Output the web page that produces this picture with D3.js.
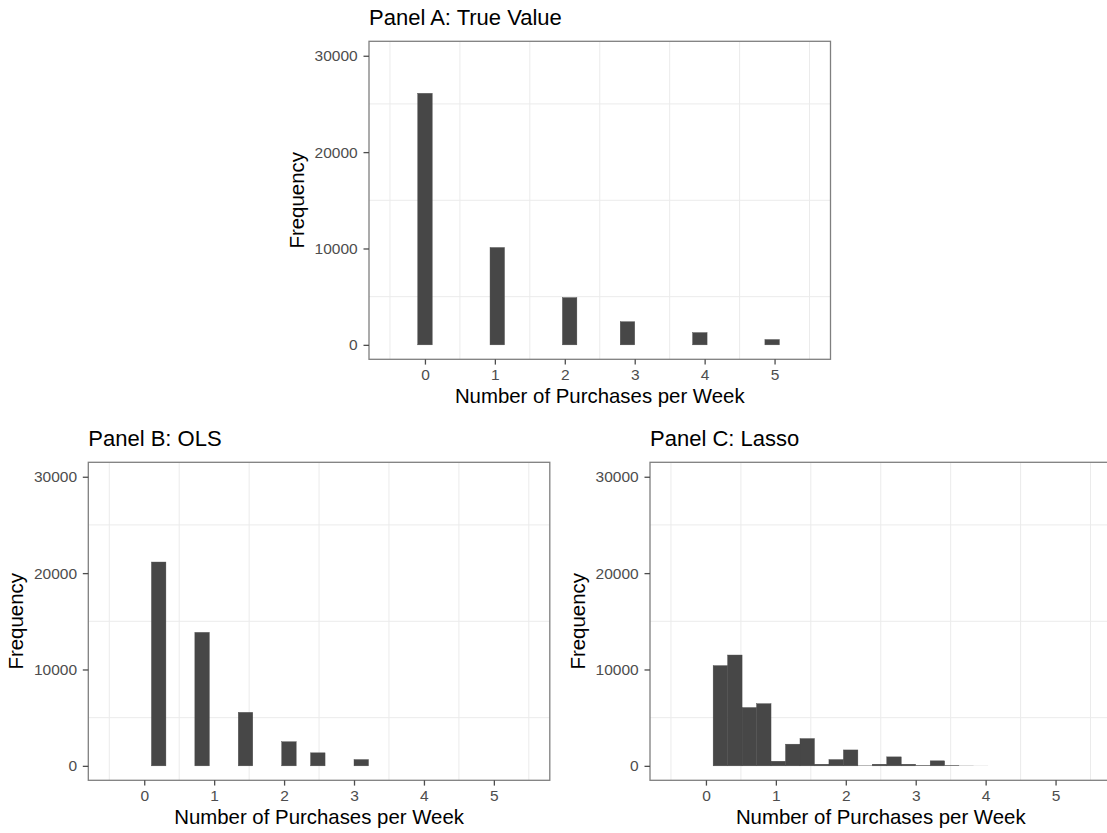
<!DOCTYPE html>
<html>
<head>
<meta charset="utf-8">
<script src="https://cdn.jsdelivr.net/npm/d3@7"></script>
<style>
  html, body { margin: 0; padding: 0; background: #ffffff; }
  svg { display: block; font-family: "Liberation Sans", Arial, Helvetica, sans-serif; }
</style>
</head>
<body>
<svg id="chart" width="1107" height="833"></svg>
<script>
// Histogram bins share one width; each series lists the left edge of its non-empty bins
const binWidth = 0.2069;

// Panel A: observed purchases
const trueBinStart = [-0.103, 0.931, 1.966, 2.793, 3.828, 4.862];
const trueCounts   = [26100, 10100, 4900, 2400, 1270, 550];

// Panel B: OLS predictions
const olsBinStart = [0.103, 0.724, 1.345, 1.966, 2.379, 3.000];
const olsCounts   = [21150, 13850, 5550, 2500, 1350, 650];

// Panel C: Lasso predictions
const lassoBinStart = [0.103, 0.310, 0.517, 0.724, 0.931, 1.138, 1.345, 1.552, 1.759, 1.966,
                       2.172, 2.379, 2.586, 2.793, 3.000, 3.207, 3.414, 3.621, 3.828];
const lassoCounts   = [10400, 11500, 6050, 6450, 480, 2250, 2830, 170, 650, 1650,
                       40, 170, 930, 170, 70, 520, 70, 20, 8];

// Axis ticks and grid positions
const xTicks = [0, 1, 2, 3, 4, 5];
const yTicks = [0, 10000, 20000, 30000];
const xGridLines = [-0.5, 0.5, 1.5, 2.5, 3.5, 4.5, 5.5];
const yGridLines = [5000, 15000, 25000];

const xDomain = [-0.8, 5.8];
const yDomain = [-1500, 31500];

const panels = [
  { title: "Panel A: True Value", starts: trueBinStart,  counts: trueCounts,  left: 369,  top: 41.3 },
  { title: "Panel B: OLS",        starts: olsBinStart,   counts: olsCounts,   left: 88.3, top: 462.3 },
  { title: "Panel C: Lasso",      starts: lassoBinStart, counts: lassoCounts, left: 650,  top: 462.3 }
];

const panelW = 461.5, panelH = 318;
const svg = d3.select("#chart");

panels.forEach(p => {
  const g = svg.append("g").attr("transform", `translate(${p.left},${p.top})`);
  const x = d3.scaleLinear().domain(xDomain).range([0, panelW]);
  const y = d3.scaleLinear().domain(yDomain).range([panelH, 0]);

  // background + grid
  g.append("rect").attr("width", panelW).attr("height", panelH).attr("fill", "#ffffff");
  g.selectAll("line.vgrid").data(xGridLines).join("line")
    .attr("class", "vgrid")
    .attr("x1", d => x(d)).attr("x2", d => x(d))
    .attr("y1", 0).attr("y2", panelH)
    .attr("stroke", "#ebebeb").attr("stroke-width", 1);
  g.selectAll("line.hgrid").data(yGridLines).join("line")
    .attr("class", "hgrid")
    .attr("x1", 0).attr("x2", panelW)
    .attr("y1", d => y(d)).attr("y2", d => y(d))
    .attr("stroke", "#ebebeb").attr("stroke-width", 1);

  // histogram bars; a hairline outline on taller bins closes seams between neighbours
  const bins = p.starts.map((s, i) => ({ x0: s, x1: s + binWidth, n: p.counts[i] }));
  g.selectAll("rect.bar").data(bins).join("rect")
    .attr("class", "bar")
    .attr("x", d => x(d.x0))
    .attr("width", d => x(d.x1) - x(d.x0))
    .attr("y", d => y(d.n))
    .attr("height", d => y(0) - y(d.n))
    .attr("fill", "#474747")
    .attr("stroke", d => d.n >= 100 ? "#474747" : "none")
    .attr("stroke-width", 0.4);

  // panel border
  g.append("rect").attr("width", panelW).attr("height", panelH)
    .attr("fill", "none").attr("stroke", "#7f7f7f").attr("stroke-width", 1.3);

  // y axis
  const ya = g.append("g").call(
    d3.axisLeft(y).tickValues(yTicks).tickSize(5.5).tickPadding(5.8).tickFormat(d3.format("d"))
  );
  ya.select(".domain").remove();
  ya.selectAll("line").attr("stroke", "#4d4d4d").attr("stroke-width", 1.3);
  ya.selectAll("text").attr("font-size", 15.5).attr("fill", "#4d4d4d")
    .attr("font-family", "Liberation Sans, Arial, sans-serif");

  // x axis
  const xa = g.append("g").attr("transform", `translate(0,${panelH})`).call(
    d3.axisBottom(x).tickValues(xTicks).tickSize(5.3).tickFormat(d3.format("d"))
  );
  xa.select(".domain").remove();
  xa.selectAll("line").attr("stroke", "#4d4d4d").attr("stroke-width", 1.3);
  xa.selectAll("text").attr("y", 21).attr("dy", null)
    .attr("font-size", 15.5).attr("fill", "#4d4d4d")
    .attr("font-family", "Liberation Sans, Arial, sans-serif");

  // axis titles
  g.append("text")
    .attr("x", panelW / 2).attr("y", panelH + 44)
    .attr("text-anchor", "middle").attr("font-size", 20.4).attr("fill", "#000")
    .text("Number of Purchases per Week");
  g.append("text")
    .attr("transform", `translate(-65,${panelH / 2}) rotate(-90)`)
    .attr("text-anchor", "middle").attr("font-size", 20.4).attr("fill", "#000")
    .text("Frequency");

  // panel title
  g.append("text")
    .attr("x", 0).attr("y", -16)
    .attr("font-size", 22).attr("fill", "#000")
    .text(p.title);
});
</script>
</body>
</html>
